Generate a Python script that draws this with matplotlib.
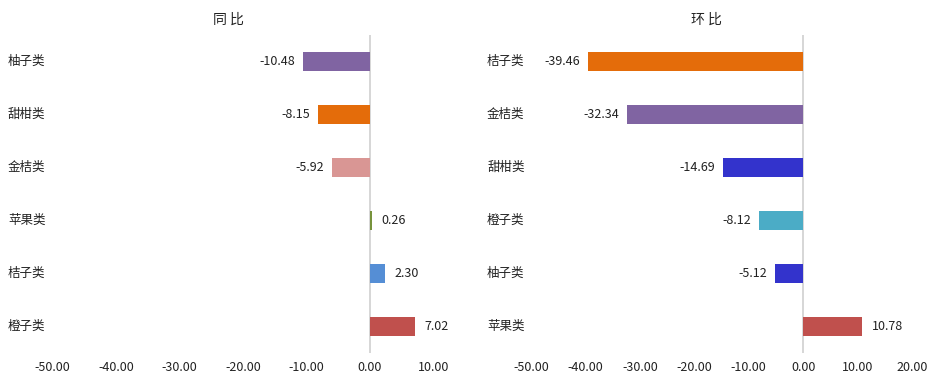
import matplotlib.pyplot as plt
from matplotlib import transforms

plt.rcParams['font.family'] = ['Noto Sans CJK SC', 'DejaVu Sans']

# 同比
yoy_names = ["柚子类", "甜柑类", "金桔类", "苹果类", "桔子类", "橙子类"]
yoy_values = [-10.48, -8.15, -5.92, 0.26, 2.30, 7.02]
yoy_colors = ["#8064A2", "#E46C0A", "#D99694", "#77933C", "#558ED5", "#C0504D"]

# 环比
mom_names = ["桔子类", "金桔类", "甜柑类", "橙子类", "柚子类", "苹果类"]
mom_values = [-39.46, -32.34, -14.69, -8.12, -5.12, 10.78]
mom_colors = ["#E46C0A", "#8064A2", "#3333CC", "#4BACC6", "#3333CC", "#C0504D"]

fig = plt.figure(figsize=(9.39, 3.77), dpi=100)
ax1 = fig.add_axes([52.5 / 939, 24 / 377, 381 / 939, 318 / 377])
ax2 = fig.add_axes([531 / 939, 24 / 377, 381 / 939, 318 / 377])


def draw(ax, names, values, colors, title, xmax, label_x):
    pos = list(range(len(names)))
    ax.barh(pos, values, height=0.36, color=colors, zorder=3)
    ax.set_ylim(len(names) - 0.5, -0.5)
    ax.set_xlim(-50, xmax)
    ax.set_xticks(range(-50, xmax + 1, 10))
    ax.set_xticklabels(["%.2f" % t for t in range(-50, xmax + 1, 10)])
    ax.tick_params(axis="x", length=0, labelsize=9, colors="#222222", pad=6)
    ax.set_yticks([])
    for s in ax.spines.values():
        s.set_visible(False)
    ax.axvline(0, color="#D0D0D0", lw=1.2, zorder=2)
    trans = transforms.blended_transform_factory(fig.transFigure, ax.transData)
    for p, n in zip(pos, names):
        ax.text(label_x / 939, p, n, transform=trans, ha="left", va="center",
                fontsize=9, color="#222222")
    for p, v in zip(pos, values):
        off = -8 if v < 0 else 10
        ax.annotate("%.2f" % v, (v, p), xytext=(off * 0.72, 0), textcoords="offset points",
                    ha="right" if v < 0 else "left", va="center", fontsize=9, color="#222222")
    ax.set_title(title, fontsize=10, color="#222222", pad=8, x=0.461)


draw(ax1, yoy_names, yoy_values, yoy_colors, "同 比", 10, 8)
draw(ax2, mom_names, mom_values, mom_colors, "环 比", 20, 487)

fig.savefig("out.png", dpi=100)
